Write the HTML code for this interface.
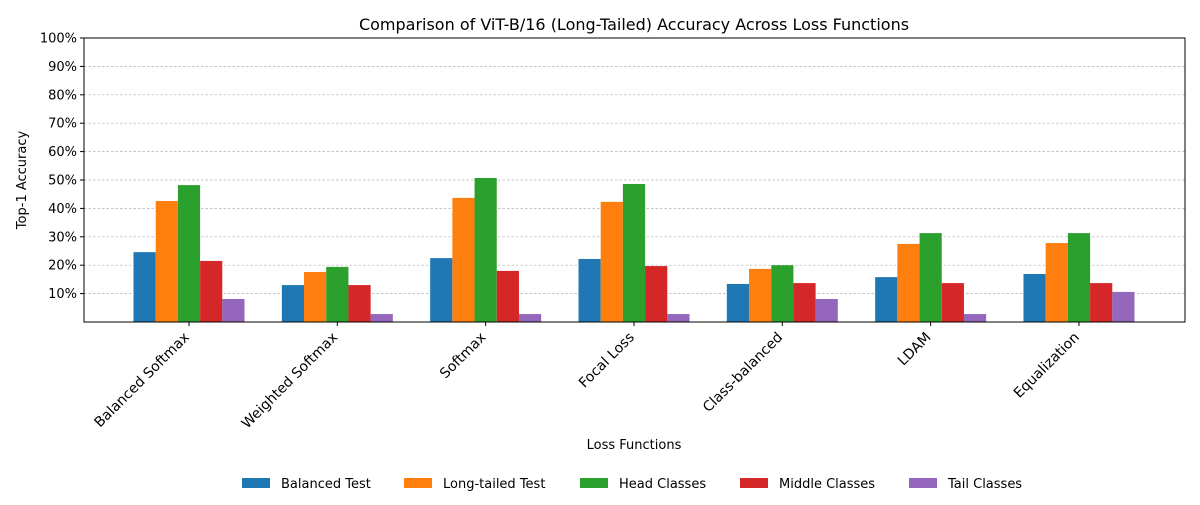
<!DOCTYPE html>
<html><head><meta charset="utf-8"><style>
body{margin:0;background:#fff;font-family:"Liberation Sans","DejaVu Sans",sans-serif}
svg text{font-family:"DejaVu Sans","Liberation Sans",sans-serif}
</style></head><body>
<svg id="chart" width="1200" height="500" xmlns="http://www.w3.org/2000/svg"></svg>
<script>
const categories=["Balanced Softmax","Weighted Softmax","Softmax","Focal Loss","Class-balanced","LDAM","Equalization"];
const seriesNames=["Balanced Test","Long-tailed Test","Head Classes","Middle Classes","Tail Classes"];
const balancedTest=[24.6,13.0,22.5,22.2,13.4,15.8,16.9];
const longTailedTest=[42.6,17.6,43.7,42.3,18.7,27.5,27.8];
const headClasses=[48.2,19.4,50.7,48.6,20.0,31.3,31.3];
const middleClasses=[21.5,13.0,18.0,19.7,13.7,13.7,13.7];
const tailClasses=[8.1,2.8,2.8,2.8,8.1,2.8,10.6];
const yTicks=[10,20,30,40,50,60,70,80,90,100];
const colors=["#1f77b4","#ff7f0e","#2ca02c","#d62728","#9467bd"];
const series=[balancedTest,longTailedTest,headClasses,middleClasses,tailClasses];
const NS="http://www.w3.org/2000/svg";
const svg=document.getElementById('chart');
const L=84,R=1185,T=38,B=322;
const y=v=>B-(v/100)*(B-T);
const groupW=148.33,barW=22.2;
const xc=i=>189+i*groupW;
function mk(t,a,txt){const e=document.createElementNS(NS,t);for(const k in a)e.setAttribute(k,a[k]);if(txt!==undefined)e.textContent=txt;svg.appendChild(e);return e;}
let e;
e=mk('text',{x:634,y:30,'font-size':16,'text-anchor':'middle',fill:'#000'},"Comparison of ViT-B/16 (Long-Tailed) Accuracy Across Loss Functions");


yTicks.forEach(t=>{
 e=mk('line',{x1:L,x2:R,y1:y(t),y2:y(t),stroke:'#b0b0b0','stroke-width':0.7,'stroke-dasharray':'2.5,2'});
 
 
 e=mk('line',{x1:L-4,x2:L,y1:y(t),y2:y(t),stroke:'#000'});
 
 
 e=mk('text',{x:L-7,y:y(t)+4.5,'font-size':13,'text-anchor':'end'},t+'%');
 
 
});
series.forEach((s,si)=>{
 s.forEach((v,i)=>{
  const x=xc(i)+(si-2.5)*barW;
  e=mk('rect',{x:x,y:y(v),width:barW,height:B-y(v),fill:colors[si]});
  
  
 });
});
categories.forEach((c,i)=>{
 e=mk('line',{x1:xc(i),x2:xc(i),y1:B,y2:B+4,stroke:'#000'});
 
 
 e=mk('text',{x:xc(i)+1,y:B+16,'font-size':14,'text-anchor':'end',transform:`rotate(-45 ${xc(i)+1} ${B+16})`},c);
 
 
});
e=mk('rect',{x:L,y:T,width:R-L,height:B-T,fill:'none',stroke:'#000','stroke-width':1});


e=mk('text',{x:634,y:449,'font-size':13,'text-anchor':'middle'},"Loss Functions");


e=mk('text',{x:26,y:180,'font-size':13,'text-anchor':'middle',transform:'rotate(-90 26 180)'},"Top-1 Accuracy");


const legX=[242,404,580,740,909];
seriesNames.forEach((n,i)=>{
 e=mk('rect',{x:legX[i],y:478,width:28,height:10,fill:colors[i]});
 
 
 e=mk('text',{x:legX[i]+39,y:488,'font-size':13},n);
 
 
});
</script>
</body></html>
